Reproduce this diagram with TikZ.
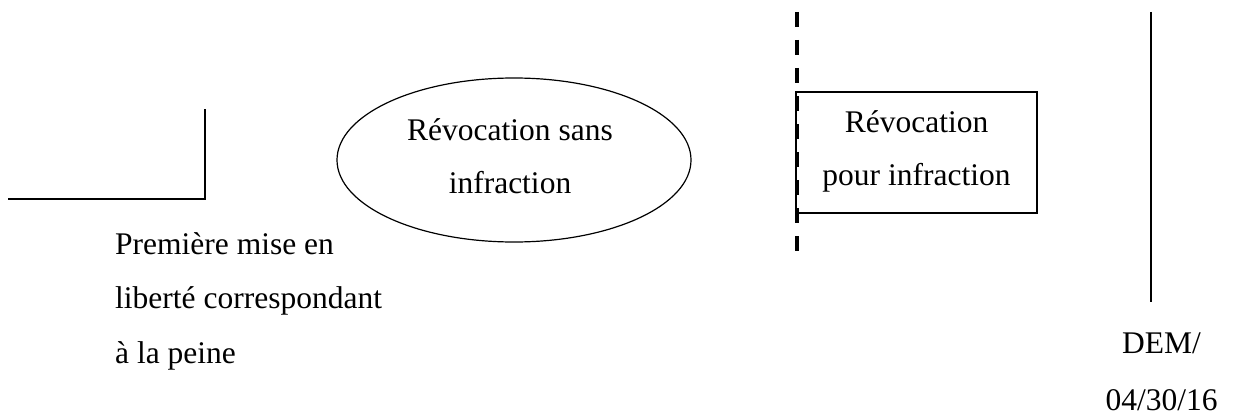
\documentclass[tikz,border=0pt]{standalone}
\usepackage{fontspec}
\setmainfont{Liberation Serif}
\usetikzlibrary{shapes.geometric}
\begin{document}
\begin{tikzpicture}[x=1pt,y=1pt,
  txt/.style={inner sep=0pt, font=\fontsize{31.5}{54.5}\selectfont},
  txtbox/.style={txt, font=\fontsize{31.5}{52.5}\selectfont, align=center, anchor=base},
  edge/.style={line width=1.5pt},
  shapeline/.style={draw, line width=1.2pt, inner sep=0pt}]
\useasboundingbox (0,0) rectangle (1233,416);

% step corner at the left
\coordinate (stepL) at (8,217);
\coordinate (stepC) at (205,217);
\coordinate (stepT) at (205,307);
\draw[edge] (stepL) -- (stepC) -- (stepT);

% multi-line nodes are anchored on the baseline of their last line
\node[txt, align=left, anchor=base west] (first) at (115,53)
  {Première mise en\\liberté correspondant\\à la peine};

% revocation without offence
\node[shapeline, ellipse, minimum width=354pt, minimum height=164pt] (sans) at (514,256) {};
\node[txtbox] (sanslbl) at (510,223) {Révocation sans\\infraction};

% dashed boundary and revocation for offence
\coordinate (dashT) at (797,404);
\coordinate (dashB) at (797,165);
\node[shapeline, rectangle, minimum width=241pt, minimum height=121pt] (pour) at (916.5,263.5) {};
\draw[line width=3.5pt, dash pattern=on 15pt off 13pt] (dashT) -- (dashB);
\node[txtbox] (pourlbl) at (916.5,231) {Révocation\\pour infraction};

% right-hand limit
\coordinate (limT) at (1151,404);
\coordinate (limB) at (1151,114);
\draw[edge] (limT) -- (limB);
\node[txtbox, font=\fontsize{31.5}{57}\selectfont] (dem) at (1161.5,6) {DEM/\\04/30/16};
\end{tikzpicture}
\end{document}
